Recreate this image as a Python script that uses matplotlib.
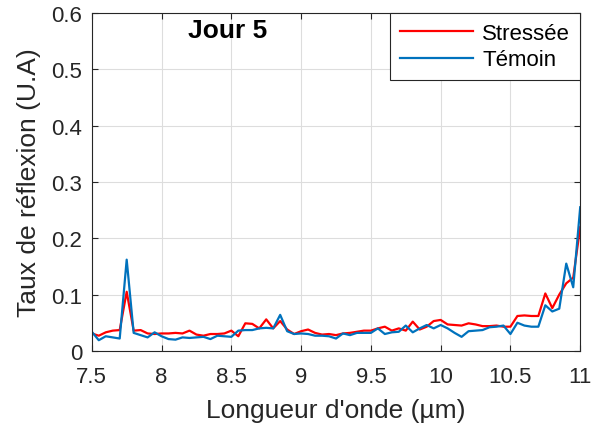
import matplotlib
matplotlib.use('Agg')
import matplotlib.pyplot as plt
import numpy as np

plt.rcParams['font.family'] = ['Liberation Sans', 'DejaVu Sans']

# longueurs d'onde (µm)
wl = np.round(np.arange(7.5, 11.0001, 0.05), 2)

stressee = [0.031, 0.027, 0.033, 0.036, 0.037, 0.105, 0.036, 0.037, 0.031, 0.030,
            0.031, 0.031, 0.032, 0.031, 0.036, 0.029, 0.027, 0.030, 0.030, 0.031,
            0.036, 0.026, 0.049, 0.048, 0.040, 0.056, 0.040, 0.053, 0.038, 0.030,
            0.035, 0.038, 0.032, 0.029, 0.030, 0.028, 0.031, 0.032, 0.034, 0.036,
            0.036, 0.040, 0.043, 0.036, 0.040, 0.036, 0.052, 0.038, 0.043, 0.053,
            0.055, 0.047, 0.046, 0.045, 0.049, 0.047, 0.044, 0.044, 0.045, 0.043,
            0.043, 0.062, 0.063, 0.062, 0.062, 0.102, 0.076, 0.100, 0.120, 0.130,
            0.220]

temoin = [0.034, 0.019, 0.026, 0.024, 0.022, 0.162, 0.032, 0.028, 0.024, 0.033,
          0.026, 0.021, 0.020, 0.024, 0.023, 0.024, 0.025, 0.021, 0.027, 0.026,
          0.025, 0.036, 0.037, 0.037, 0.040, 0.041, 0.040, 0.064, 0.035, 0.030,
          0.031, 0.030, 0.027, 0.027, 0.026, 0.022, 0.031, 0.028, 0.032, 0.032,
          0.032, 0.040, 0.030, 0.033, 0.034, 0.045, 0.033, 0.040, 0.046, 0.040,
          0.046, 0.040, 0.032, 0.025, 0.035, 0.036, 0.037, 0.042, 0.043, 0.045,
          0.030, 0.050, 0.045, 0.043, 0.043, 0.081, 0.070, 0.075, 0.155, 0.113,
          0.255]

xticks = [7.5, 8, 8.5, 9, 9.5, 10, 10.5, 11]
xticklabels = ['7.5', '8', '8.5', '9', '9.5', '10', '10.5', '11']
yticks = [0, 0.1, 0.2, 0.3, 0.4, 0.5, 0.6]
yticklabels = ['0', '0.1', '0.2', '0.3', '0.4', '0.5', '0.6']

fig = plt.figure(figsize=(6, 4.35), dpi=100)
ax = fig.add_axes([0.153, 0.191, 0.814, 0.777])

ax.plot(wl, stressee, color=(1, 0, 0), lw=1.6, label='Stressée')
ax.plot(wl, temoin, color=(0, 0.447, 0.741), lw=1.6, label='Témoin')

ax.set_xlim(7.5, 11)
ax.set_ylim(0, 0.6)
ax.set_xticks(xticks)
ax.set_xticklabels(xticklabels)
ax.set_yticks(yticks)
ax.set_yticklabels(yticklabels)
ax.tick_params(direction='in', top=True, right=True, labelsize=16,
               colors='#262626', length=4, width=0.8)
ax.tick_params(axis='x', pad=11)
ax.tick_params(axis='y', pad=7)
for s in ax.spines.values():
    s.set_color('#262626')
    s.set_linewidth(0.8)
ax.grid(True, color='#dddddd', linewidth=0.8)
ax.set_axisbelow(True)

ax.set_xlabel("Longueur d'onde (µm)", fontsize=19, color='#262626')
ax.set_ylabel('Taux de réflexion (U.A)', fontsize=19, color='#262626')
ax.xaxis.set_label_coords(0.5, -0.14)
ax.yaxis.set_label_coords(-0.103, 0.5)
ax.text(0.279, 0.95, 'Jour 5', transform=ax.transAxes, ha='center', va='center',
        fontsize=19, fontweight='bold')

leg = ax.legend(loc='upper right', fontsize=16, fancybox=False, framealpha=1,
                edgecolor='#262626', borderaxespad=0, handlelength=3.3,
                handletextpad=0.4, borderpad=0.45, labelspacing=0.25)
leg.get_frame().set_linewidth(0.8)

fig.savefig('out.png', dpi=100)
